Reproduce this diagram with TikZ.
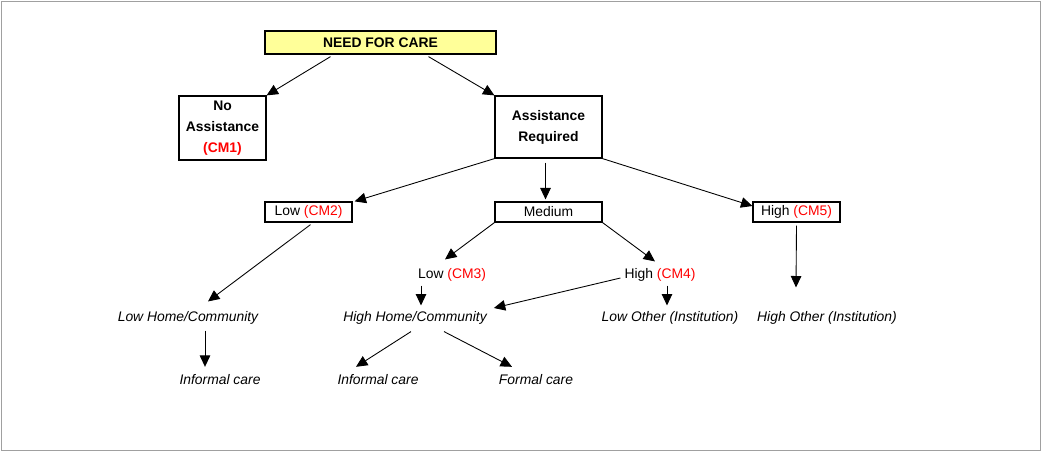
\documentclass[tikz,border=0pt]{standalone}
\usepackage{fontspec}
\setmainfont{Liberation Sans}
\usetikzlibrary{arrows.meta}
\usetikzlibrary{calc}
\definecolor{boxyellow}{HTML}{FFFF99}
\definecolor{framegray}{HTML}{A0A0A0}
\definecolor{cmred}{HTML}{FF0000}
\tikzset{
box/.style={draw=black, line width=0.7pt, inner sep=0pt, align=center, font=\fontsize{7.9}{9.5}\selectfont},
leaf/.style={inner sep=1pt, font=\fontsize{7.9}{9.5}\selectfont\itshape},
choice/.style={inner sep=1pt, font=\fontsize{7.9}{9.5}\selectfont},
arr/.style={line width=0.5pt, -{Triangle[length=6.5pt,width=6pt]}}}
\newcommand{\cm}[1]{\textcolor{cmred}{#1}}

\begin{document}
\begin{tikzpicture}[x=0.02cm, y=-0.02cm]

    \useasboundingbox (0,0) rectangle (1041,451);
    \draw[framegray, line width=0.5pt] (1,1) rectangle (1040,450);

                \node[box, fill=boxyellow, minimum width=4.62cm, minimum height=0.46cm, font=\fontsize{7.9}{9.5}\selectfont\bfseries] (need) at (380.5,42.5) {NEED FOR CARE};
                \node[box, minimum width=1.74cm, minimum height=1.28cm, font=\fontsize{7.9}{12}\selectfont\bfseries] (noassist) at (222.5,128) {No\\Assistance\\\cm{(CM1)}};
                \node[box, minimum width=2.14cm, minimum height=1.24cm, font=\fontsize{7.9}{12}\selectfont\bfseries] (assist) at (548.5,127) {Assistance\\Required};

                \node[box, minimum width=1.74cm, minimum height=0.4cm] (lowcm2) at (308.5,212) {Low \cm{(CM2)}};
                \node[box, minimum width=2.14cm, minimum height=0.4cm] (medium) at (548.5,212) {Medium};
                \node[box, minimum width=1.74cm, minimum height=0.4cm] (highcm5) at (796.5,212) {High \cm{(CM5)}};

                \node[choice] (lowcm3) at (452,275) {Low \cm{(CM3)}};
                \node[choice] (highcm4) at (660,275) {High \cm{(CM4)}};

                \node[leaf] (lowhome) at (188,318) {Low Home/Community};
                \node[leaf] (highhome) at (415,318) {High Home/Community};
                \node[leaf] (lowother) at (670,318) {Low Other (Institution)};
                \node[leaf] (highother) at (827,318) {High Other (Institution)};

                \node[leaf] (informalA) at (220,380) {Informal care};
                \node[leaf] (informalB) at (378,380) {Informal care};
                \node[leaf] (formal) at (536,380) {Formal care};

                \draw[arr] ($(need.south)+(-50,2)$) -- (noassist.north east);
                \draw[arr] ($(need.south)+(48,2)$) -- (assist.north west);
                \draw[arr] (assist.south west) -- ($(lowcm2.north east)+(2,0)$);
                \draw[arr] ($(assist.south)+(-3,4)$) -- ($(medium.north)+(-3,-2)$);
                \draw[arr] (assist.south east) -- ($(highcm5.west)+(0,-6)$);
                \draw[arr] ($(lowcm2.south)+(2,2)$) -- ($(lowhome.north)+(20,-8)$);
                \draw[arr] (medium.south west) -- ($(lowcm3.north)+(-7,-7)$);
                \draw[arr] (medium.south east) -- ($(highcm4.north)+(-5,-5)$);
                \draw[arr] ($(lowcm3.south)+(-31,2)$) -- ($(highhome.north)+(6,-4)$);
                \draw[arr] ($(highcm4.west)+(-2,3)$) -- ($(highhome.east)+(5,-10)$);
                \draw[arr] ($(highcm4.south)+(7,2)$) -- ($(lowother.north)+(-3,-4)$);
                \draw[arr] ($(highcm5.south)+(0,3)$) -- ($(highother.north)+(-31,-22)$);
                \draw[arr] ($(lowhome.south)+(17,4)$) -- ($(informalA.north)+(-15,-6)$);
                \draw[arr] ($(highhome.south)+(-4,5)$) -- ($(informalB.north)+(-22,-6)$);
                \draw[arr] ($(highhome.south)+(29,5)$) -- ($(formal.north)+(-24,-6)$);

\end{tikzpicture}
\end{document}
